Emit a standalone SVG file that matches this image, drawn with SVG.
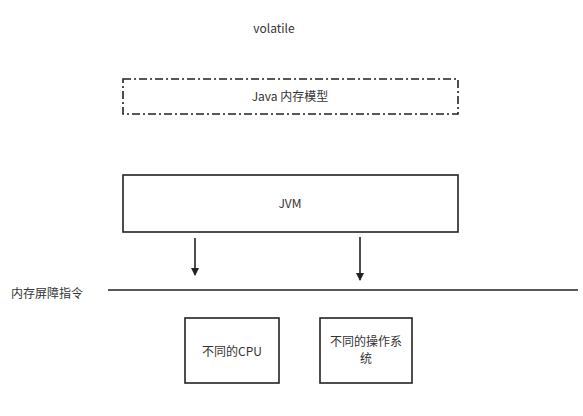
<svg xmlns="http://www.w3.org/2000/svg" width="583" height="416" viewBox="0 0 583 416">
<style>
text{font-family:"Noto Sans CJK SC","Liberation Sans",sans-serif;font-size:12px;fill:#333;text-anchor:middle}
.box{fill:#fff;stroke:#222;stroke-width:1.6}
.line{stroke:#222;stroke-width:1.6;fill:none}
</style>
<defs>
<marker id="ah" markerWidth="10" markerHeight="10" refX="7" refY="4" orient="auto" markerUnits="userSpaceOnUse"><path d="M0,0 L8,4 L0,8 Z" fill="#222"/></marker>
</defs>
<rect width="583" height="416" fill="#fff"/>
<text x="274" y="33">volatile</text>
<g id="jmm">
<rect class="box" x="123" y="79" width="335" height="35" stroke-dasharray="8,3,2,3"/>
<text x="290" y="101">Java 内存模型</text>
</g>
<g id="jvm">
<rect class="box" x="123" y="175" width="335" height="57"/>
<text x="290" y="208">JVM</text>
</g>
<g id="barrier">
<text x="47" y="298">内存屏障指令</text>
</g>
<g id="cpu">
<rect class="box" x="185" y="318" width="94" height="65"/>
<text x="232" y="356">不同的CPU</text>
</g>
<g id="os">
<rect class="box" x="320" y="318" width="92" height="65"/>
<text x="366" y="346">不同的操作系</text>
<text x="366" y="363">统</text>
</g>
<g id="connectors">
<line class="line" x1="108" y1="290" x2="578" y2="290"/>
<line class="line" x1="195" y1="238" x2="195" y2="275" marker-end="url(#ah)"/>
<line class="line" x1="360" y1="237" x2="360" y2="280" marker-end="url(#ah)"/>
</g>
</svg>
